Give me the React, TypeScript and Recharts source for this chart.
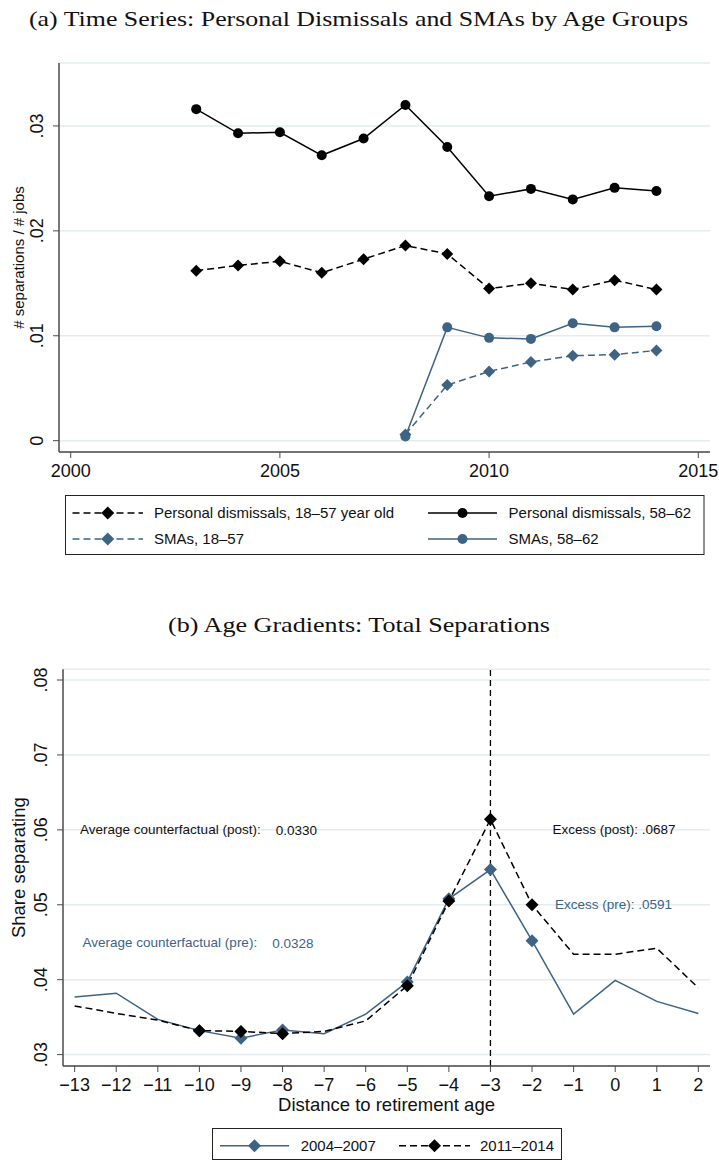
import React from 'react';
import { LineChart, Line, XAxis, YAxis, CartesianGrid, ReferenceLine, ReferenceDot } from 'recharts';

const BLUE = '#3e6383';
const GRID = '#e3ecef';
const AXIS = '#4a4a4a';
const SANS = '"Liberation Sans", Arial, sans-serif';
const SERIF = '"Liberation Serif", "DejaVu Serif", serif';

// (a) time series
const years = [2003, 2004, 2005, 2006, 2007, 2008, 2009, 2010, 2011, 2012, 2013, 2014];
const dismissYoung = [0.0162, 0.0167, 0.0171, 0.0160, 0.0173, 0.0186, 0.0178, 0.0145, 0.0150, 0.0144, 0.0153, 0.0144];
const dismissOld = [0.0316, 0.0293, 0.0294, 0.0272, 0.0288, 0.0320, 0.0280, 0.0233, 0.0240, 0.0230, 0.0241, 0.0238];
const smaYoung = [null, null, null, null, null, 0.0006, 0.0053, 0.0066, 0.0075, 0.0081, 0.0082, 0.0086];
const smaOld = [null, null, null, null, null, 0.0004, 0.0108, 0.0098, 0.0097, 0.0112, 0.0108, 0.0109];
const yearTicks = [2000, 2005, 2010, 2015];
const rateTicks = [0, 0.01, 0.02, 0.03];

// (b) age gradients
const distance = [-13, -12, -11, -10, -9, -8, -7, -6, -5, -4, -3, -2, -1, 0, 1, 2];
const pre = [0.0377, 0.0382, 0.0347, 0.0332, 0.0322, 0.0333, 0.0328, 0.0354, 0.0397, 0.0508, 0.0547, 0.0452, 0.0354, 0.0399, 0.0371, 0.0355];
const post = [0.0365, 0.0355, 0.0346, 0.0332, 0.0331, 0.0328, 0.0331, 0.0345, 0.0392, 0.0505, 0.0614, 0.0500, 0.0434, 0.0434, 0.0442, 0.0389];
const markedDistance = [-10, -9, -8, -5, -4, -3, -2];
const shareTicks = [0.03, 0.04, 0.05, 0.06, 0.07, 0.08];

const tsData = years.map((year, i) => ({
  year,
  dismissYoung: dismissYoung[i],
  dismissOld: dismissOld[i],
  smaYoung: smaYoung[i],
  smaOld: smaOld[i],
}));

const gradData = distance.map((d, i) => ({ d, pre: pre[i], post: post[i] }));

const fmtShare = (v: number) => (v === 0 ? '0' : '.' + v.toFixed(2).split('.')[1]);
const fmtDist = (v: number) => (v < 0 ? '\u2212' + Math.abs(v) : String(v));

function diamondPath(cx: number, cy: number, r: number) {
  return `M${cx},${cy - r}L${cx + r},${cy}L${cx},${cy + r}L${cx - r},${cy}Z`;
}

const makeDot = (kind: 'circle' | 'diamond', fill: string, size: number, only?: number[]) => (p: any) => {
  const key = `${kind}-${fill}-${p.index}`;
  if (p.cx == null || p.cy == null || p.value == null) return <g key={key} />;
  if (only && !only.includes(p.payload.d)) return <g key={key} />;
  if (kind === 'circle') return <circle key={key} cx={p.cx} cy={p.cy} r={size} fill={fill} />;
  return <path key={key} d={diamondPath(p.cx, p.cy, size)} fill={fill} />;
};

const XTick = (p: any) => (
  <text x={p.x} y={p.y + 17} textAnchor="middle" fontSize={18} fontFamily={SANS} fill="#111">
    {p.fmt(p.payload.value)}
  </text>
);

const YTick = (p: any) => (
  <text transform={`translate(${p.x - 8},${p.y}) rotate(-90)`} textAnchor="middle" fontSize={18} fontFamily={SANS} fill="#111">
    {fmtShare(p.payload.value)}
  </text>
);

const note = (label: string, value: string | null, color: string) => (p: any) => (
  <text x={p.cx} y={p.cy} dominantBaseline="central" fontSize={13.5} fontFamily={SANS} fill={color}>
    {label}
    {value && <tspan dx={15}>{value}</tspan>}
  </text>
);

function LegendMark({ x1, x2, y, color, dashed, kind }: any) {
  const mid = (x1 + x2) / 2;
  return (
    <g>
      <line x1={x1} x2={x2} y1={y} y2={y} stroke={color} strokeWidth={1.5} strokeDasharray={dashed ? '7 4' : undefined} />
      {kind === 'circle' ? <circle cx={mid} cy={y} r={5} fill={color} /> : <path d={diamondPath(mid, y, 6.5)} fill={color} />}
    </g>
  );
}

export default function App() {
  return (
    <div style={{ position: 'absolute', left: 0, top: 0, width: 719, height: 1161, background: '#fff', overflow: 'hidden' }}>
      {/* panel (a) */}
      <div style={{ position: 'absolute', left: 0, top: 0 }}>
        <LineChart width={719} height={480} data={tsData} margin={{ top: 63, right: 9, bottom: 0, left: 0 }}>
          <CartesianGrid horizontal vertical={false} stroke={GRID} strokeWidth={1.5} />
          <XAxis
            dataKey="year"
            type="number"
            domain={[1999.72, 2015.28]}
            allowDataOverflow
            ticks={yearTicks}
            height={28}
            tickSize={6}
            tickMargin={2}
            axisLine={{ stroke: AXIS, strokeWidth: 1.5 }}
            tickLine={{ stroke: AXIS }}
            tick={(p: any) => <XTick {...p} fmt={String} />}
          />
          <YAxis
            type="number"
            domain={[-0.00108, 0.036]}
            allowDataOverflow
            ticks={rateTicks}
            width={59}
            tickSize={6}
            tickMargin={2}
            axisLine={{ stroke: AXIS, strokeWidth: 1.5 }}
            tickLine={{ stroke: AXIS }}
            tick={YTick}
            label={{
              content: (props: any) => {
                const vb = props.viewBox;
                return (
                  <text transform={`translate(23.5,${vb.y + vb.height / 2}) rotate(-90)`} textAnchor="middle" fontSize={15} fontFamily={SANS} fill="#111">
                    # separations / # jobs
                  </text>
                );
              },
            }}
          />
          <Line dataKey="dismissYoung" stroke="#000" strokeWidth={1.5} strokeDasharray="7 4" dot={makeDot('diamond', '#000', 6)} activeDot={false} isAnimationActive={false} />
          <Line dataKey="dismissOld" stroke="#000" strokeWidth={1.5} dot={makeDot('circle', '#000', 5)} activeDot={false} isAnimationActive={false} />
          <Line dataKey="smaYoung" stroke={BLUE} strokeWidth={1.5} strokeDasharray="7 4" dot={makeDot('diamond', BLUE, 6)} activeDot={false} isAnimationActive={false} />
          <Line dataKey="smaOld" stroke={BLUE} strokeWidth={1.5} dot={makeDot('circle', BLUE, 5)} activeDot={false} isAnimationActive={false} />
        </LineChart>
      </div>

      {/* panel (b) */}
      <div style={{ position: 'absolute', left: 0, top: 640 }}>
        <LineChart width={719} height={480} data={gradData} margin={{ top: 29.3, right: 9, bottom: 0, left: 0 }}>
          <CartesianGrid horizontal vertical={false} stroke={GRID} strokeWidth={1.5} />
          <XAxis
            dataKey="d"
            type="number"
            domain={[-13.28, 2.28]}
            allowDataOverflow
            ticks={distance}
            interval={0}
            height={54}
            tickSize={6}
            tickMargin={2}
            axisLine={{ stroke: AXIS, strokeWidth: 1.5 }}
            tickLine={{ stroke: AXIS }}
            tick={(p: any) => <XTick {...p} fmt={fmtDist} />}
            label={{
              content: (props: any) => {
                const vb = props.viewBox;
                return (
                  <text x={vb.x + vb.width / 2} y={vb.y + 45} textAnchor="middle" fontSize={18.5} fontFamily={SANS} fill="#111">
                    Distance to retirement age
                  </text>
                );
              },
            }}
          />
          <YAxis
            type="number"
            domain={[0.02848, 0.08143]}
            allowDataOverflow
            ticks={shareTicks}
            width={63}
            tickSize={6}
            tickMargin={2}
            axisLine={{ stroke: AXIS, strokeWidth: 1.5 }}
            tickLine={{ stroke: AXIS }}
            tick={YTick}
            label={{
              content: (props: any) => {
                const vb = props.viewBox;
                return (
                  <text transform={`translate(25,${vb.y + vb.height / 2}) rotate(-90)`} textAnchor="middle" fontSize={18.5} fontFamily={SANS} fill="#111">
                    Share separating
                  </text>
                );
              },
            }}
          />
          <Line dataKey="pre" stroke={BLUE} strokeWidth={1.5} dot={makeDot('diamond', BLUE, 6.5, markedDistance)} activeDot={false} isAnimationActive={false} />
          <Line dataKey="post" stroke="#000" strokeWidth={1.5} strokeDasharray="7 4" dot={makeDot('diamond', '#000', 6.5, markedDistance)} activeDot={false} isAnimationActive={false} />
          <ReferenceLine x={-3} stroke="#000" strokeWidth={1.3} strokeDasharray="6 4" />
          <ReferenceDot x={-12.87} y={0.06} r={0} shape={note('Average counterfactual (post):', '0.0330', '#111')} />
          <ReferenceDot x={-12.81} y={0.0449} r={0} shape={note('Average counterfactual (pre):', '0.0328', BLUE)} />
          <ReferenceDot x={-1.51} y={0.06} r={0} shape={note('Excess (post): .0687', null, '#111')} />
          <ReferenceDot x={-1.45} y={0.05} r={0} shape={note('Excess (pre): .0591', null, BLUE)} />
        </LineChart>
      </div>

      {/* titles and legends */}
      <svg width={719} height={1161} style={{ position: 'absolute', left: 0, top: 0, pointerEvents: 'none' }}>
        <text x={358.5} y={26} textAnchor="middle" fontSize={22} fontFamily={SERIF} fill="#111" textLength={659} lengthAdjust="spacingAndGlyphs">
          (a) Time Series: Personal Dismissals and SMAs by Age Groups
        </text>
        <text x={359} y={631.7} textAnchor="middle" fontSize={22} fontFamily={SERIF} fill="#111" textLength={382} lengthAdjust="spacingAndGlyphs">
          (b) Age Gradients: Total Separations
        </text>

        <rect x={65.5} y={495.5} width={638.5} height={59} fill="none" stroke="#222" strokeWidth={1} />
        <LegendMark x1={72.5} x2={143} y={513} color="#000" dashed kind="diamond" />
        <text x={154} y={518} fontSize={15} fontFamily={SANS} fill="#111">Personal dismissals, 18–57 year old</text>
        <LegendMark x1={428} x2={497} y={513} color="#000" kind="circle" />
        <text x={508.6} y={518} fontSize={15} fontFamily={SANS} fill="#111">Personal dismissals, 58–62</text>
        <LegendMark x1={72.5} x2={143} y={539} color={BLUE} dashed kind="diamond" />
        <text x={154} y={544} fontSize={15} fontFamily={SANS} fill="#111">SMAs, 18–57</text>
        <LegendMark x1={428} x2={497} y={539} color={BLUE} kind="circle" />
        <text x={508.6} y={544} fontSize={15} fontFamily={SANS} fill="#111">SMAs, 58–62</text>

        <rect x={212.5} y={1128.5} width={349} height={31} fill="none" stroke="#222" strokeWidth={1} />
        <LegendMark x1={220} x2={289} y={1145.7} color={BLUE} kind="diamond" />
        <text x={300.7} y={1150.7} fontSize={15} fontFamily={SANS} fill="#111">2004–2007</text>
        <LegendMark x1={399} x2={470} y={1145.7} color="#000" dashed kind="diamond" />
        <text x={480} y={1150.7} fontSize={15} fontFamily={SANS} fill="#111">2011–2014</text>
      </svg>
    </div>
  );
}
